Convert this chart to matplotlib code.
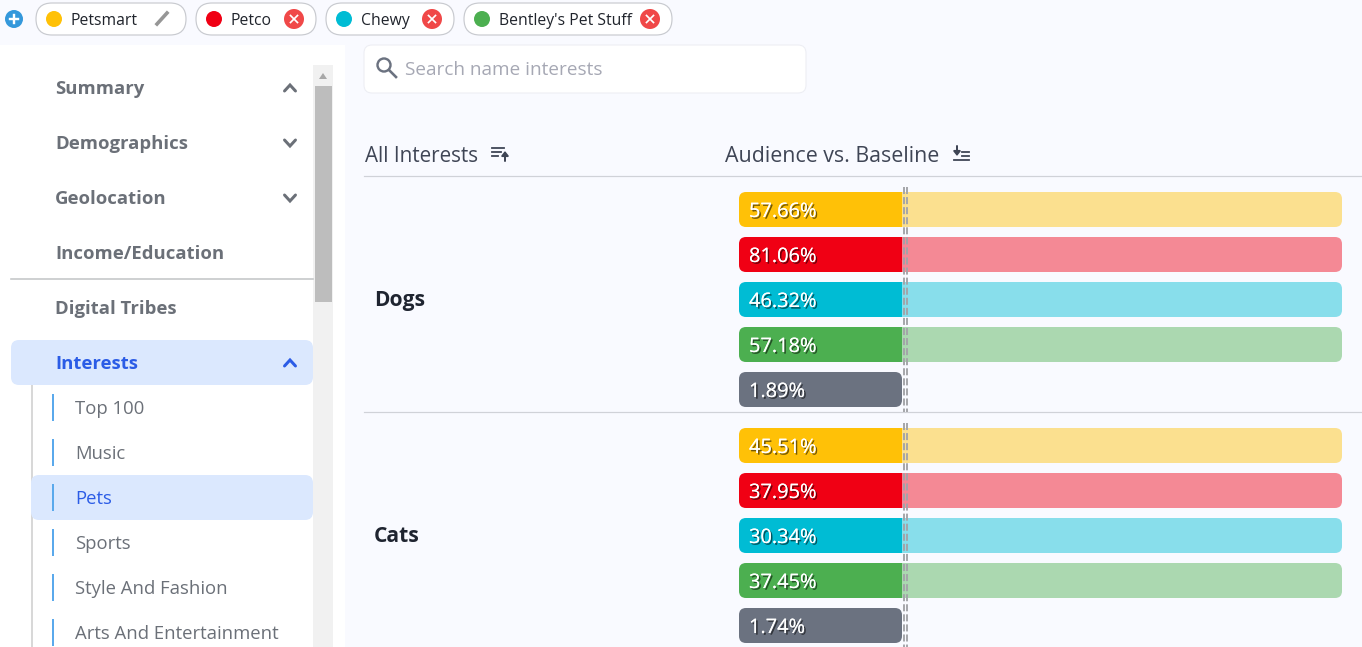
import matplotlib
matplotlib.use("Agg")
import matplotlib.pyplot as plt
import matplotlib.patheffects as pe
from matplotlib.patches import FancyBboxPatch, Circle

# data
interests = ["Dogs", "Cats"]
brands = ["Petsmart", "Petco", "Chewy", "Bentley's Pet Stuff"]
brand_colors = ["#FFC107", "#F00014", "#00BCD4", "#4CAF50"]
baseline_color = "#6B7280"
dogs_pct = [57.66, 81.06, 46.32, 57.18, 1.89]
cats_pct = [45.51, 37.95, 30.34, 37.45, 1.74]
# length of the two parts of each bar, the grey baseline row has no right part
solid_len = [163, 163, 163, 163, 163]
pale_len = [440, 440, 440, 440, 0]

side_main = ["Summary", "Demographics", "Geolocation", "Income/Education", "Digital Tribes", "Interests"]
side_sub = ["Top 100", "Music", "Pets", "Sports", "Style And Fashion", "Arts And Entertainment"]

BG = "#F9FAFF"
FONT = "Open Sans"
plt.rcParams["font.family"] = [FONT, "DejaVu Sans"]

fig = plt.figure(figsize=(13.62, 6.47), dpi=100, facecolor=BG)
ax = fig.add_axes([0, 0, 1, 1])
ax.set_xlim(0, 1362)
ax.set_ylim(647, 0)
ax.axis("off")


def px(n):
    return n * 0.72


def box(x0, y0, x1, y1, r, fc, ec="none", lw=0, z=1):
    p = FancyBboxPatch((x0 + r, y0 + r), x1 - x0 - 2 * r, y1 - y0 - 2 * r,
                       boxstyle=f"round,pad={r},rounding_size={r}",
                       fc=fc, ec=ec, lw=lw, zorder=z)
    ax.add_patch(p)
    return p


def txt(x, y, s, size, color, weight="normal", z=6, ha="left"):
    # open sans sits a bit high with va=center
    return ax.text(x - 1, y + 2, s, fontsize=px(size), color=color, fontweight=weight,
                   va="center", ha=ha, zorder=z)


def chevron(x, y, up, color):
    d = -3 if up else 3
    ax.plot([x - 5.5, x, x + 5.5], [y - d, y + d, y - d], color=color, lw=px(3),
            solid_capstyle="round", solid_joinstyle="miter", zorder=6)


def sort_icon(x, y, arrow_up):
    # three short lines with an arrow, used next to the column titles
    c = "#3F4555"
    if arrow_up:
        for i, w in enumerate([12, 9, 6]):
            ax.plot([x, x + w], [y - 5 + i * 4, y - 5 + i * 4], color=c, lw=px(1.8), zorder=6)
        ax.annotate("", xy=(x + 13, y - 2), xytext=(x + 13, y + 8),
                    arrowprops=dict(arrowstyle="-|>,head_width=0.2,head_length=0.25", color=c, lw=px(2), shrinkA=0, shrinkB=0))
    else:
        ax.annotate("", xy=(x + 3, y + 3), xytext=(x + 3, y - 7),
                    arrowprops=dict(arrowstyle="-|>,head_width=0.2,head_length=0.25", color=c, lw=px(2), shrinkA=0, shrinkB=0))
        ax.plot([x + 8, x + 15], [y - 1, y - 1], color=c, lw=px(1.8), zorder=6)
        ax.plot([x + 8, x + 15], [y + 3, y + 3], color=c, lw=px(1.8), zorder=6)
        ax.plot([x, x + 15], [y + 7, y + 7], color=c, lw=px(1.8), zorder=6)


# top bar with the brand chips
ax.add_patch(Circle((14, 19), 9, fc="#3498DB", zorder=2))
ax.plot([10, 18], [19, 19], color="white", lw=px(2.4), zorder=3)
ax.plot([14, 14], [15, 23], color="white", lw=px(2.4), zorder=3)

chip_x0 = [36, 196, 326, 464]
chip_x1 = [186, 316, 454, 672]
for i, name in enumerate(brands):
    box(chip_x0[i], 3, chip_x1[i], 35, 16, "white", "#C9CBD0", px(1.2), z=2)
    ax.add_patch(Circle((chip_x0[i] + 18, 19), 8, fc=brand_colors[i], zorder=3))
    txt(chip_x0[i] + 36, 19, name, 15.7, "#20242C")
    if i == 0:
        ax.plot([157, 167], [24, 13], color="#969696", lw=px(3.6), zorder=3)
    else:
        xc = chip_x1[i] - 22
        ax.add_patch(Circle((xc, 19), 10, fc="#F04848", zorder=3))
        ax.plot([xc - 3.5, xc + 3.5], [15.5, 22.5], color="white", lw=px(1.7), zorder=4)
        ax.plot([xc - 3.5, xc + 3.5], [22.5, 15.5], color="white", lw=px(1.7), zorder=4)

# sidebar
ax.fill_between([0, 345], 45, 647, color="white", lw=0, zorder=0.5)
ax.fill_between([313, 333], 65, 647, color="#F1F1F1", lw=0, zorder=1)
ax.fill_between([315, 332], 86, 302, color="#BDBDBD", lw=0, zorder=2)
ax.fill([319, 323, 327], [79, 73, 79], color="#A8A8A8", lw=0, zorder=2)

box(11, 340, 313, 385, 8, "#DBE8FE", z=1)
box(31, 475, 313, 520, 8, "#DBE8FE", z=1)
ax.plot([11, 313], [279, 279], color="#C4C6C8", lw=px(1.6), zorder=2)
ax.plot([32, 32], [385, 647], color="#D8D8D8", lw=px(2), zorder=0.8)

main_y = [87, 142, 197, 252, 307, 362]
chev_up = [True, False, False, None, None, True]
for i, name in enumerate(side_main):
    col = "#2B5CE6" if name == "Interests" else "#6B7078"
    txt(56, main_y[i], name, 18.5, col, "bold")
    if chev_up[i] is not None:
        chevron(290, main_y[i] + 1, chev_up[i], col)

sub_y = [407, 452, 497, 542, 587, 632]
for i, name in enumerate(side_sub):
    txt(76, sub_y[i], name, 18.5, "#2B5CE6" if name == "Pets" else "#6B7078")
    ax.plot([53, 53], [sub_y[i] - 12, sub_y[i] + 13], color="#5AA9EC", lw=px(2), zorder=3)

# search box
box(364, 45, 806, 93, 8, "white", "#ECEDF3", px(1), z=1)
ax.add_patch(Circle((384, 65), 6.5, fc="none", ec="#6B7280", lw=px(2.4), zorder=3))
ax.plot([389, 396], [70, 77], color="#6B7280", lw=px(2.6), zorder=3)
txt(406, 68, "Search name interests", 19, "#A6A8B4")

# table header
txt(366, 154, "All Interests", 20.7, "#3F4555")
sort_icon(492, 153, True)
txt(726, 154, "Audience vs. Baseline", 21.4, "#3F4555")
sort_icon(954, 153, False)
ax.plot([364, 1362], [176, 176], color="#D0D2D8", lw=px(1.2), zorder=1)
ax.plot([364, 1362], [412, 412], color="#D0D2D8", lw=px(1.2), zorder=1)

# bars, one group per interest
row_colors = brand_colors + [baseline_color]
bar_left = 739
for name, vals, top in zip(interests, [dogs_pct, cats_pct], [192, 428]):
    ys = [top + 17.5 + 45 * j for j in range(len(vals))]
    txt(375, ys[2] - 1, name, 21, "#1F2430", "bold")
    solid = ax.barh(ys, solid_len, left=bar_left, height=35, color=row_colors, lw=0, zorder=3)
    pale = ax.barh(ys, pale_len, left=[bar_left + s for s in solid_len], height=35,
                   color=row_colors, alpha=0.45, lw=0, zorder=3)
    for j, v in enumerate(vals):
        right = bar_left + solid_len[j] + pale_len[j]
        clip = box(bar_left, ys[j] - 17.5, right, ys[j] + 17.5, 7, "none", z=0)
        solid[j].set_clip_path(clip)
        pale[j].set_clip_path(clip)
        t = txt(750, ys[j] + 0.5, f"{v:.2f}%", 20, "white", z=7)
        t.set_path_effects([pe.withSimplePatchShadow(offset=(1.2, -1.2), shadow_rgbFace="#000000", alpha=0.55),
                            pe.Normal()])
    # dashed baseline marker
    for xd in [904.3, 907]:
        ax.plot([xd, xd], [top - 5, top + 220], color="#A3A4A8", lw=px(1.9),
                dashes=(3.7, 1.6), dash_capstyle="butt", zorder=5)

fig.savefig("out.png", dpi=100, facecolor=BG)
